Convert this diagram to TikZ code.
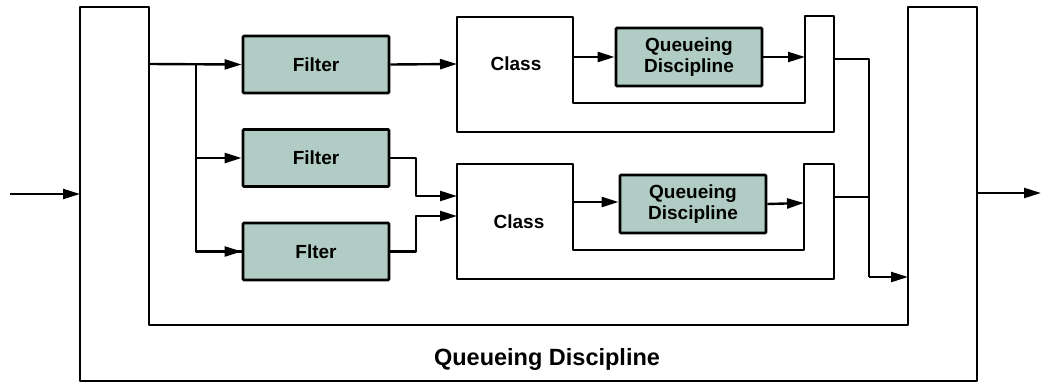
\documentclass[tikz,border=0pt]{standalone}
\usepackage{fontspec}
\setmainfont{Liberation Sans}
\usepackage{tikz}
\usetikzlibrary{arrows.meta, positioning}

\definecolor{boxgreen}{RGB}{176,204,196}

\tikzset{
  wire/.style    = {line width=2.4pt, line join=round},
  flow/.style    = {wire, -{Triangle[length=17pt, width=10pt]}},
  shell/.style   = {line width=2.8pt, line join=round},
  greenbox/.style= {draw, line width=2.8pt, fill=boxgreen, rounded corners=1pt,
                    minimum width=146pt, minimum height=57pt, inner sep=0pt,
                    align=center, font=\fontsize{19}{21.5}\selectfont\bfseries},
  label/.style   = {font=\fontsize{19}{21.5}\selectfont\bfseries}
}

\begin{document}
\begin{tikzpicture}[x=1pt, y=-1pt, node distance=93.5pt]

\useasboundingbox (0,0) rectangle (1042,383);

% outer queueing discipline
\draw [shell] (80,7) -- (149,7) -- (149,325) -- (908,325) -- (908,7) -- (977,7) -- (977,381) -- (80,381) -- cycle;
\node [label] (qdisc) at (547,359) {\fontsize{23.5}{26}\selectfont Queueing Discipline};

% the two classes
\draw [shell] (457,17) -- (573,17) -- (573,103) -- (805,103) -- (805,16) -- (834,16) -- (834,132) -- (457,132) -- cycle;
\draw [shell] (457,164) -- (573,164) -- (573,250) -- (804,250) -- (804,164) -- (834,164) -- (834,279) -- (457,279) -- cycle;
\node [label] (classa) at (516,64)  {Class};
\node [label] (classb) at (519,222) {Class};

\node [greenbox] (fa) at (316,64.5) {Filter};
\node [greenbox, below of=fa] (fb) {Filter};
\node [greenbox, below of=fb] (fc) {Flter};

\node [greenbox, minimum height=58pt] (qa) at (689,57)  {Queueing\\Discipline};
\node [greenbox, minimum height=58pt] (qb) at (693,204) {Queueing\\Discipline};

\coordinate (in)     at (10,194);
\coordinate (inend)  at (80,194);
\coordinate (split)  at (149,64);
\coordinate (fork)   at (196,64);
\coordinate (cain)   at (457,64);
\coordinate (cbinb)  at (457,196);
\coordinate (cbinc)  at (457,216);
\coordinate (caq)    at (573,57);
\coordinate (cbq)    at (573,202);
\coordinate (caout)  at (805,57);
\coordinate (cbout)  at (804,203);
\coordinate (cares)  at (834,59);
\coordinate (cbres)  at (834,197);
\coordinate (merge)  at (869,277);
\coordinate (mergeend) at (908,277);
\coordinate (out)    at (977,193);
\coordinate (outend) at (1041,193);

\draw [flow] (in) -- (inend);
\draw [flow] (split) -- (fa.west);
\draw [wire] (fork) |- (fc.west);
\draw [flow] (fork |- fb.west) -- (fb.west);
\draw [flow] (fork |- fc.west) -- (fc.west);

\draw [flow] (fa.east) -- (cain);
\draw [flow] (fb.east) -| (416,180) |- (cbinb);
\draw [flow] (fc.east) -| (416,230) |- (cbinc);

\draw [flow] (caq) -- (caq -| qa.west);
\draw [flow] (qa.east) -- (caout);
\draw [flow] (cbq) -- (cbq -| qb.west);
\draw [flow] (qb.east) -- (cbout);

\draw [wire] (cares) -| (merge);
\draw [wire] (cbres) -- (cbres -| merge);
\draw [flow] (merge) -- (mergeend);
\draw [flow] (out) -- (outend);

\end{tikzpicture}
\end{document}
